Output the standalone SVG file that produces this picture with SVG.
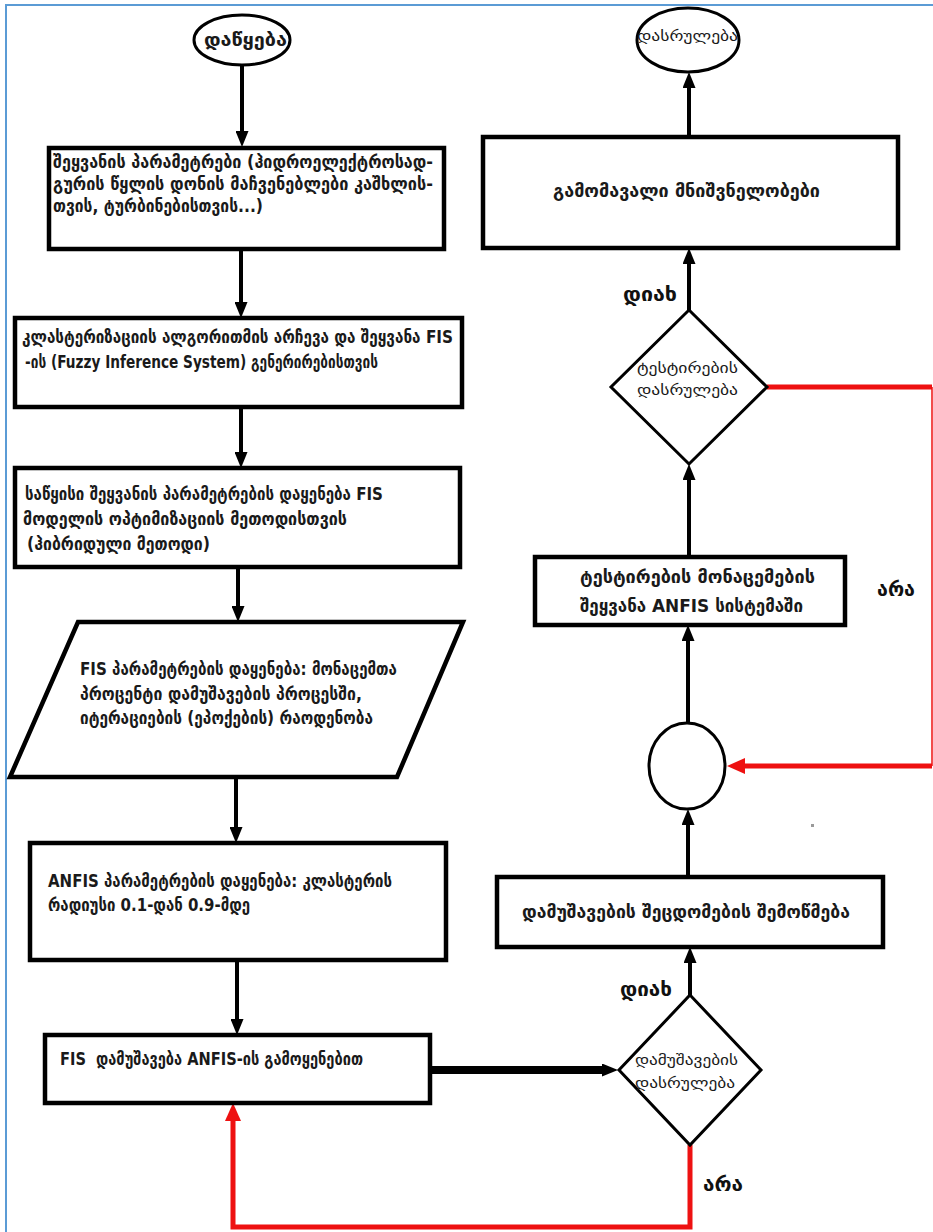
<svg xmlns="http://www.w3.org/2000/svg" width="933" height="1232" viewBox="0 0 933 1232">
  <style>
    .bg { fill: #ffffff; }
    .frame { fill: none; stroke: #5b9bd5; stroke-width: 2; }
    .box { fill: #ffffff; stroke: #000000; stroke-width: 4.5; }
    .shape { fill: #ffffff; stroke: #000000; stroke-width: 3; }
    .t { font-family: "DejaVu Sans", "Noto Sans", sans-serif; font-size: 17px; font-weight: bold; fill: #1a1a1a; white-space: pre; }
    .td { font-family: "DejaVu Sans", "Noto Sans", sans-serif; font-size: 15px; font-weight: normal; fill: #1a1a1a; }
    .lbl { font-family: "DejaVu Sans", "Noto Sans", sans-serif; font-size: 20px; font-weight: bold; fill: #111111; }
    .flow { fill: none; stroke: #000000; stroke-width: 4; }
    .flow-heavy { fill: none; stroke: #000000; stroke-width: 8; }
    .back { fill: none; stroke: #ee1111; stroke-width: 5; }
    .back-thin { fill: none; stroke: #ee1111; stroke-width: 1.5; }
  </style>
  <defs>
    <marker id="ah" markerUnits="userSpaceOnUse" markerWidth="16" markerHeight="13" refX="0" refY="6.5" orient="auto">
      <path d="M0,0 L16,6.5 L0,13 z" fill="#000000"/>
    </marker>
    <marker id="ah-red" markerUnits="userSpaceOnUse" markerWidth="18" markerHeight="16" refX="0" refY="8" orient="auto">
      <path d="M0,0 L18,8 L0,16 z" fill="#ee1111"/>
    </marker>
  </defs>

  <rect class="bg" x="0" y="0" width="933" height="1232"/>
  <path class="frame" d="M6,1232 L6,5 L933,5"/>

  <!-- connectors -->
  <g id="connectors">
    <path class="flow" d="M242,66 L242,131" marker-end="url(#ah)"/>
    <path class="flow" d="M241,250 L241,302" marker-end="url(#ah)"/>
    <path class="flow" d="M241,407 L241,452" marker-end="url(#ah)"/>
    <path class="flow" d="M238,567 L238,606" marker-end="url(#ah)"/>
    <path class="flow" d="M236,777 L236,827" marker-end="url(#ah)"/>
    <path class="flow" d="M237,960 L237,1019" marker-end="url(#ah)"/>
    <path class="flow-heavy" d="M430,1070 L602,1070" marker-end="url(#ah)"/>
    <path class="back" d="M690,1145 L690,1227 L233,1227 L233,1121" marker-end="url(#ah-red)"/>
    <path class="flow" d="M690,995 L690,963" marker-end="url(#ah)"/>
    <path class="flow" d="M688,877 L688,825" marker-end="url(#ah)"/>
    <path class="flow" d="M688,723 L688,641" marker-end="url(#ah)"/>
    <path class="flow" d="M689,557 L689,480" marker-end="url(#ah)"/>
    <path class="flow" d="M689,310 L689,264" marker-end="url(#ah)"/>
    <path class="flow" d="M689,137 L689,88" marker-end="url(#ah)"/>
    <path class="back" d="M767,387 L932,387"/>
    <path class="back-thin" d="M932,387 L932,766"/>
    <path class="back" d="M932,766 L745,766" marker-end="url(#ah-red)"/>
  </g>

  <g id="start">
    <ellipse class="shape" cx="242" cy="40" rx="48" ry="25"/>
    <text class="t" x="204" y="46" textLength="83" lengthAdjust="spacingAndGlyphs">დაწყება</text>
  </g>

  <g id="input-params">
    <rect class="box" x="49" y="148" width="395" height="101"/>
    <text class="t" x="53" y="168" textLength="380" lengthAdjust="spacingAndGlyphs">შეყვანის პარამეტრები (ჰიდროელექტროსად-</text>
    <text class="t" x="53" y="190" textLength="380" lengthAdjust="spacingAndGlyphs">გურის წყლის დონის მაჩვენებლები კაშხლის-</text>
    <text class="t" x="53" y="212" textLength="210" lengthAdjust="spacingAndGlyphs">თვის, ტურბინებისთვის...)</text>
  </g>

  <g id="clustering">
    <rect class="box" x="15" y="318" width="447" height="89"/>
    <text class="t" x="22" y="343" textLength="431" lengthAdjust="spacingAndGlyphs">კლასტერიზაციის ალგორითმის არჩევა და შეყვანა FIS</text>
    <text class="t" x="25" y="368" textLength="353" lengthAdjust="spacingAndGlyphs">-ის (Fuzzy Inference System) გენერირებისთვის</text>
  </g>

  <g id="initial-params">
    <rect class="box" x="15" y="468" width="445" height="99"/>
    <text class="t" x="25" y="500" textLength="358" lengthAdjust="spacingAndGlyphs">საწყისი შეყვანის პარამეტრების დაყენება FIS</text>
    <text class="t" x="23" y="525" textLength="324" lengthAdjust="spacingAndGlyphs">მოდელის ოპტიმიზაციის მეთოდისთვის</text>
    <text class="t" x="27" y="550" textLength="183" lengthAdjust="spacingAndGlyphs">(ჰიბრიდული მეთოდი)</text>
  </g>

  <g id="fis-params">
    <polygon class="box" points="78,622 463,622 397,777 10,777"/>
    <text class="t" x="80" y="675" textLength="317" lengthAdjust="spacingAndGlyphs">FIS პარამეტრების დაყენება: მონაცემთა</text>
    <text class="t" x="80" y="700" textLength="282" lengthAdjust="spacingAndGlyphs">პროცენტი დამუშავების პროცესში,</text>
    <text class="t" x="80" y="724" textLength="293" lengthAdjust="spacingAndGlyphs">იტერაციების (ეპოქების) რაოდენობა</text>
  </g>

  <g id="anfis-params">
    <rect class="box" x="30" y="843" width="416" height="117"/>
    <text class="t" x="48" y="887" textLength="344" lengthAdjust="spacingAndGlyphs">ANFIS პარამეტრების დაყენება: კლასტერის</text>
    <text class="t" x="48" y="911" textLength="202" lengthAdjust="spacingAndGlyphs">რადიუსი 0.1-დან 0.9-მდე</text>
  </g>

  <g id="fis-training">
    <rect class="box" x="45" y="1035" width="385" height="68"/>
    <text class="t" x="60" y="1065" textLength="303" lengthAdjust="spacingAndGlyphs" xml:space="preserve">FIS  დამუშავება ANFIS-ის გამოყენებით</text>
  </g>

  <g id="training-done">
    <polygon class="shape" points="690,995 761,1070 690,1145 619,1070"/>
    <text class="td" x="635" y="1065" textLength="103" lengthAdjust="spacingAndGlyphs">დამუშავების</text>
    <text class="td" x="635" y="1088" textLength="100" lengthAdjust="spacingAndGlyphs">დასრულება</text>
  </g>

  <g id="error-check">
    <rect class="box" x="497" y="877" width="386" height="70"/>
    <text class="t" x="522" y="918" textLength="328" lengthAdjust="spacingAndGlyphs">დამუშავების შეცდომების შემოწმება</text>
  </g>

  <g id="junction">
    <ellipse class="shape" cx="687" cy="766" rx="38" ry="43"/>
  </g>

  <g id="test-input">
    <rect class="box" x="535" y="557" width="310" height="68"/>
    <text class="t" x="580" y="583" textLength="235" lengthAdjust="spacingAndGlyphs">ტესტირების მონაცემების</text>
    <text class="t" x="580" y="612" textLength="223" lengthAdjust="spacingAndGlyphs">შეყვანა ANFIS სისტემაში</text>
  </g>

  <g id="testing-done">
    <polygon class="shape" points="689,310 767,387 689,464 611,387"/>
    <text class="td" x="637" y="373" textLength="101" lengthAdjust="spacingAndGlyphs">ტესტირების</text>
    <text class="td" x="637" y="395" textLength="101" lengthAdjust="spacingAndGlyphs">დასრულება</text>
  </g>

  <g id="outputs">
    <rect class="box" x="483" y="137" width="415" height="111"/>
    <text class="t" x="553" y="197" textLength="267" lengthAdjust="spacingAndGlyphs">გამომავალი მნიშვნელობები</text>
  </g>

  <g id="end">
    <ellipse class="shape" cx="688" cy="40" rx="51" ry="32"/>
    <text class="td" x="637" y="41" textLength="101" lengthAdjust="spacingAndGlyphs">დასრულება</text>
  </g>

  <g id="labels">
    <text class="lbl" x="623" y="301" textLength="54" lengthAdjust="spacingAndGlyphs">დიახ</text>
    <text class="lbl" x="620" y="996" textLength="52" lengthAdjust="spacingAndGlyphs">დიახ</text>
    <text class="lbl" x="877" y="596" textLength="38" lengthAdjust="spacingAndGlyphs">არა</text>
    <text class="lbl" x="703" y="1191" textLength="40" lengthAdjust="spacingAndGlyphs">არა</text>
  </g>

  <rect x="811" y="824" width="3" height="3" fill="#9a9a9a"/>
</svg>
